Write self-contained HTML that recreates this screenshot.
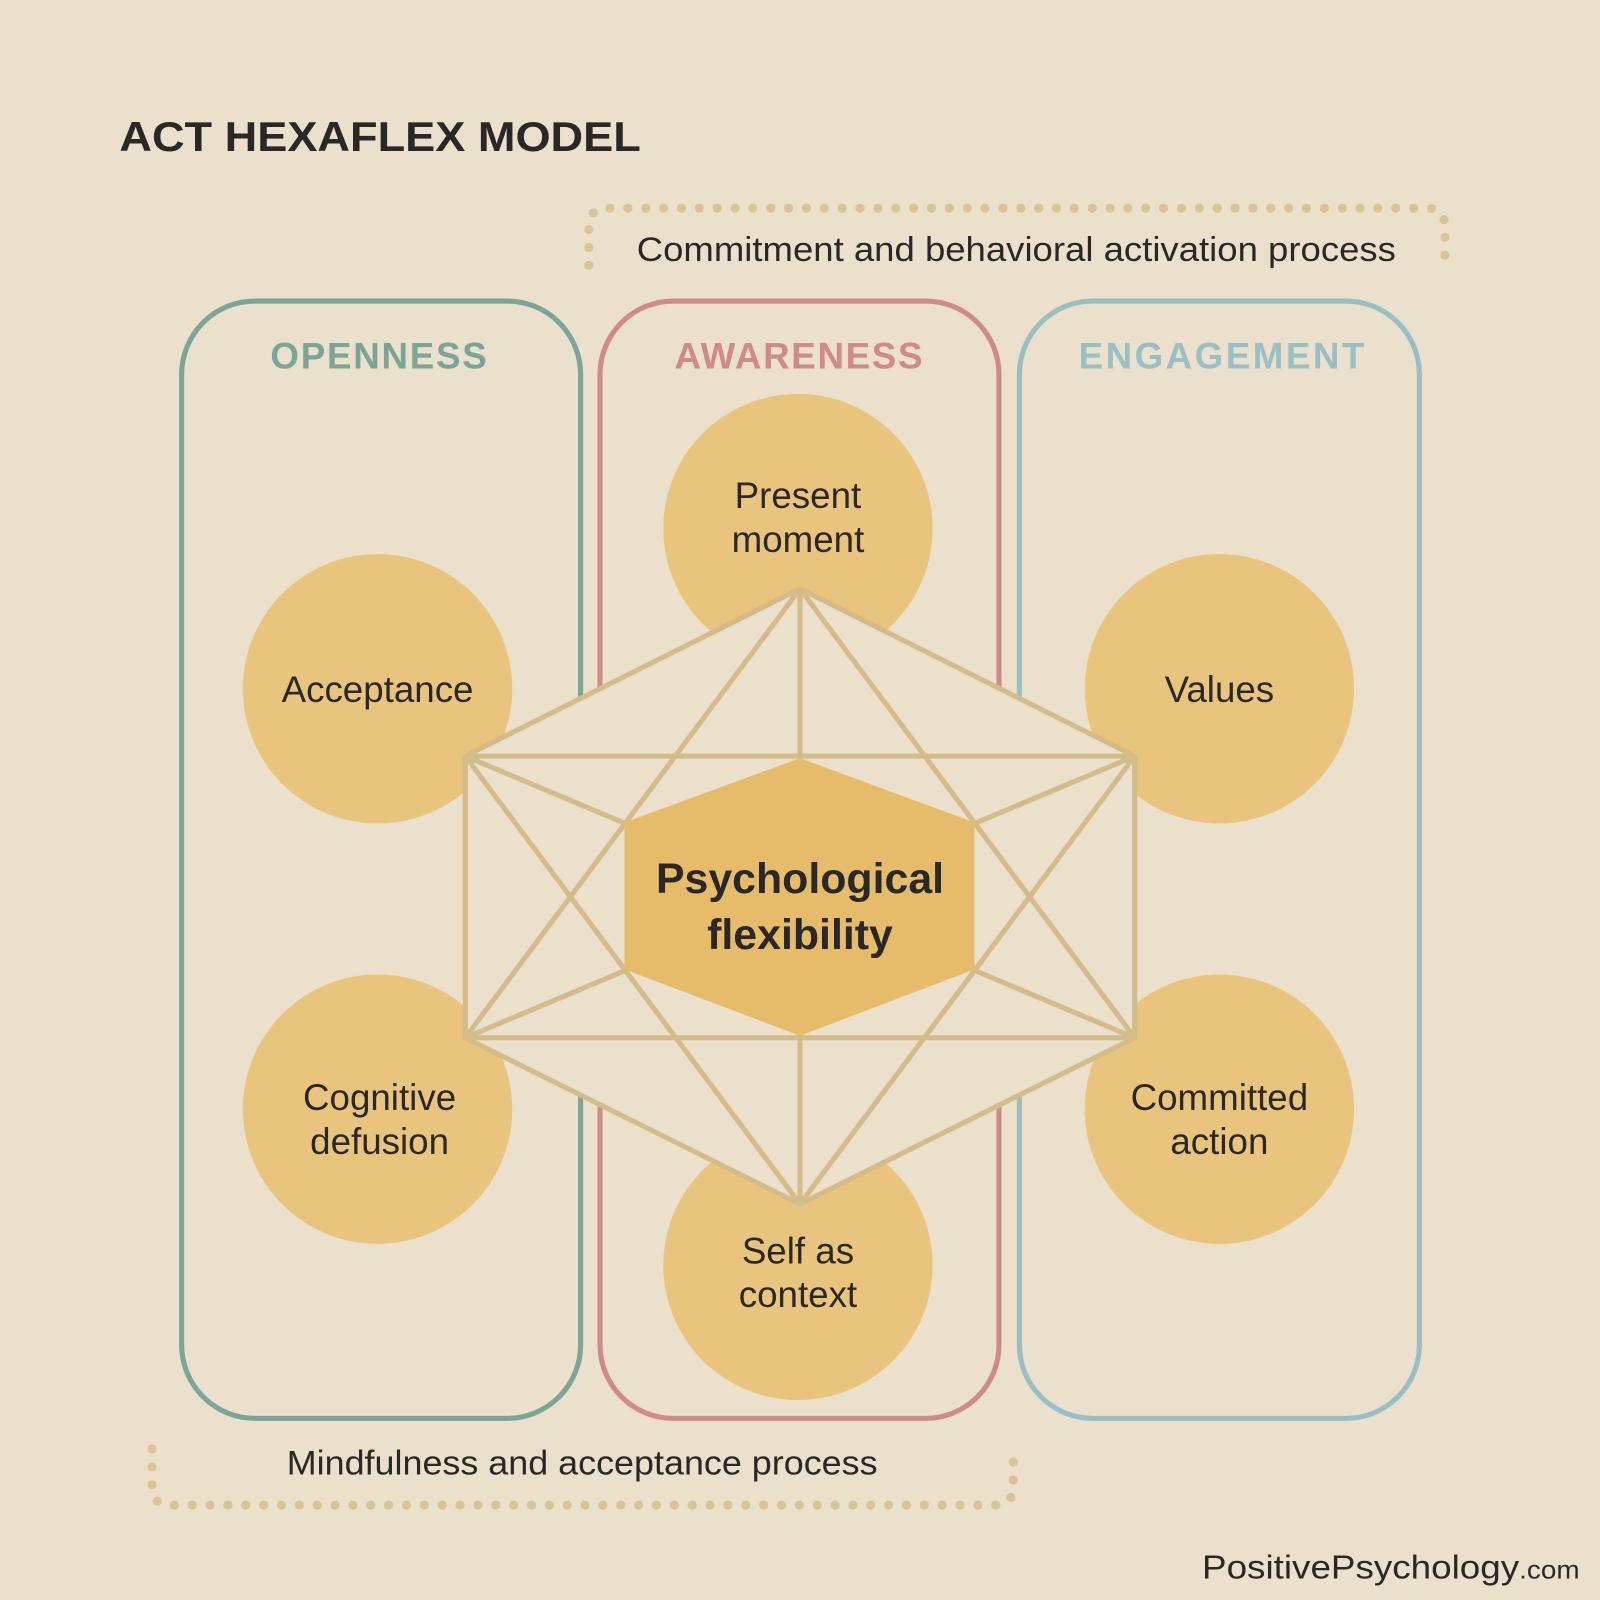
<!DOCTYPE html>
<html><head><meta charset="utf-8"><style>
html,body{margin:0;padding:0;background:#ebe0cb;}
svg{display:block;}
text{font-family:"Liberation Sans",sans-serif;fill:#2a2826;}
</style></head><body>
<svg width="1600" height="1600" viewBox="0 0 1568 1568" xmlns="http://www.w3.org/2000/svg">
<rect width="1568" height="1568" fill="#ebe0cb"/>
<text x="117" y="148" font-size="41" font-weight="bold" textLength="511" lengthAdjust="spacingAndGlyphs">ACT HEXAFLEX MODEL</text>
<g fill="none" stroke="#d8c495" stroke-width="9" stroke-linecap="round" stroke-dasharray="0 17.5">
<path d="M577 260 L577 222 Q577 204 595 204 L1398 204 Q1416 204 1416 222 L1416 260"/>
<path d="M149 1420 L149 1457 Q149 1475 167 1475 L975 1475 Q993 1475 993 1457 L993 1418"/>
</g>
<text x="624" y="256" font-size="34" textLength="744" lengthAdjust="spacingAndGlyphs">Commitment and behavioral activation process</text>
<text x="281" y="1445" font-size="34" textLength="579" lengthAdjust="spacingAndGlyphs">Mindfulness and acceptance process</text>
<rect x="178" y="295" width="391" height="1095" rx="72" fill="none" stroke="#7ba596" stroke-width="5"/>
<rect x="588" y="295" width="391" height="1095" rx="72" fill="none" stroke="#d08a88" stroke-width="5"/>
<rect x="999" y="295" width="392" height="1095" rx="72" fill="none" stroke="#98bfc6" stroke-width="5"/>
<g font-size="36" font-weight="bold">
<text x="265" y="361" style="fill:#7ba596" textLength="212" lengthAdjust="spacing">OPENNESS</text>
<text x="661" y="361" style="fill:#d08a88" textLength="243" lengthAdjust="spacing">AWARENESS</text>
<text x="1057" y="361" style="fill:#98bfc6" textLength="280" lengthAdjust="spacing">ENGAGEMENT</text>
</g>
<g fill="#e9c47c">
<circle cx="370" cy="675" r="132"/><circle cx="370" cy="1087" r="132"/>
<circle cx="782" cy="518" r="132"/><circle cx="782" cy="1240" r="132"/>
<circle cx="1195" cy="675" r="132"/><circle cx="1195" cy="1087" r="132"/>
</g>
<g font-size="36" text-anchor="middle">
<text x="370" y="688">Acceptance</text>
<text x="372" y="1088">Cognitive</text><text x="372" y="1131">defusion</text>
<text x="782" y="498">Present</text><text x="782" y="541">moment</text>
<text x="782" y="1238">Self as</text><text x="782" y="1281">context</text>
<text x="1195" y="688">Values</text>
<text x="1195" y="1088">Committed</text><text x="1195" y="1131">action</text>
</g>
<polygon points="784,577 1112,741 1112,1017 784,1180 456,1017 456,741" fill="#ebe0cb"/>
<g fill="none" stroke="#d4bb8a" stroke-width="5" stroke-linejoin="round">
<polygon points="784,577 1112,741 1112,1017 784,1180 456,1017 456,741"/>
<line x1="456" y1="741" x2="1112" y2="741"/>
<line x1="456" y1="1017" x2="1112" y2="1017"/>
<line x1="784" y1="577" x2="784" y2="1180"/>
<line x1="784" y1="577" x2="456" y2="1017"/>
<line x1="784" y1="577" x2="1112" y2="1017"/>
<line x1="784" y1="1180" x2="456" y2="741"/>
<line x1="784" y1="1180" x2="1112" y2="741"/>
<line x1="456" y1="741" x2="1112" y2="1017"/>
<line x1="456" y1="1017" x2="1112" y2="741"/>
</g>
<polygon points="784,743 955,806 955,950 784,1015 612,950 612,806" fill="#e6bc6a"/>
<g font-size="42" font-weight="bold" text-anchor="middle">
<text x="784" y="875">Psychological</text>
<text x="784" y="930">flexibility</text>
</g>
<text x="1178" y="1547" font-size="33" textLength="370" lengthAdjust="spacingAndGlyphs">PositivePsychology<tspan font-size="25">.com</tspan></text>
</svg>
</body></html>
